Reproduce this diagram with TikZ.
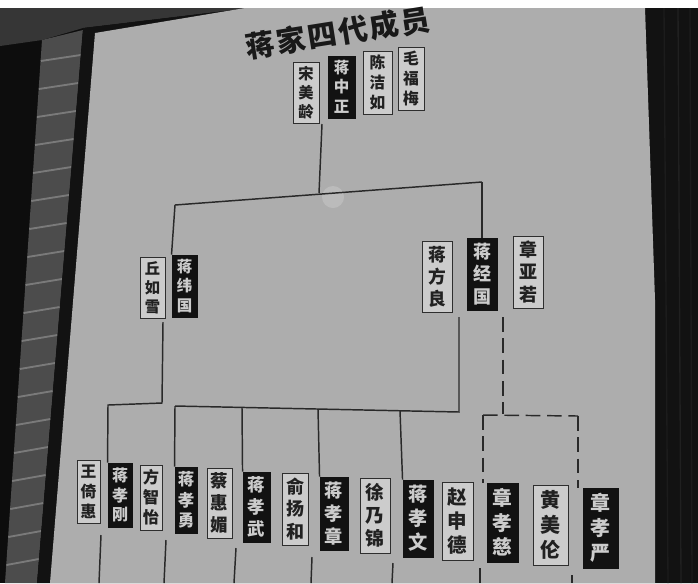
\documentclass[tikz,border=0pt]{standalone}
\usepackage{fontspec}
\newfontfamily\cjk{Noto Sans CJK SC}
\usetikzlibrary{fit,calc}
\definecolor{boardc}{gray}{0.68}
\definecolor{paper}{gray}{0.80}
\definecolor{ink}{gray}{0.07}
\definecolor{inkt}{gray}{0.13}
\definecolor{pale}{gray}{0.80}
\definecolor{linec}{gray}{0.16}
\definecolor{frameline}{gray}{0.18}
\definecolor{titlec}{gray}{0.10}
\definecolor{wall}{gray}{0.05}
\definecolor{corner}{gray}{0.21}
\definecolor{brick}{gray}{0.30}
\definecolor{mortar}{gray}{0.48}
\definecolor{framec}{gray}{0.07}
\newcommand\namebox[9]{%
  \pgfmathsetmacro\nbh{(#6-#4)*0.75}%
  \pgfmathsetmacro\nbfs{0.25*\nbh}%
  \pgfmathsetmacro\nbs{0.31*\nbh}%
  \pgfmathsetmacro\nbth{0.86*\nbfs}%
  \pgfmathsetmacro\nbtd{0.10*\nbfs}%
  \node[#1, fit={(#3,#4) (#5,#6)}] (#2) {};%
  \tikzset{nbchar/.style={#1 text, font=\cjk\bfseries\fontsize{\nbfs pt}{\nbfs pt}\selectfont, text height=\nbth pt, text depth=\nbtd pt}}%
  \node[nbchar, yshift=\nbs pt] at (#2.center) {#7};%
  \node[nbchar] at (#2.center) {#8};%
  \node[nbchar, yshift=-\nbs pt] at (#2.center) {#9};%
}
\begin{document}
\begin{tikzpicture}[x=0.75pt,y=-0.75pt,
  wbox/.style={draw=frameline, line width=0.7pt, fill=paper, inner sep=0pt},
  bbox/.style={draw=ink, line width=0.7pt, fill=ink, inner sep=0pt},
  wbox text/.style={text=inkt, inner sep=0pt},
  bbox text/.style={text=pale, inner sep=0pt},
  conn/.style={draw=linec, line width=1.1pt},
  dconn/.style={conn, dash pattern=on 11pt off 5pt},
  titlestyle/.style={font=\cjk\bfseries\fontsize{22}{24}\selectfont, text=titlec, inner sep=0pt}]
\useasboundingbox (0,0) rectangle (698,583);
% ---------- photo background ----------
\fill[white] (0,0) rectangle (698,583);
\fill[wall] (0,8) rectangle (698,583);
\fill[corner] (0,8) -- (250,8) -- (83,28) -- (42,40) -- (0,46) -- cycle;
% brick column
\fill[brick] (42,40) -- (83,30) -- (37,583) -- (5,583) -- cycle;
\foreach \yy in {58,86,114,142,170,198,226,254,282,310,338,366,394,422,450,478,506,534,562} {
  \pgfmathsetmacro\xl{42-(\yy-40)/543*37}
  \pgfmathsetmacro\xr{83-(\yy-30)/553*46}
  \draw[mortar, line width=1.4pt] (\xl,\yy+3) -- (\xr,\yy-3);
}
% frame
\fill[framec] (83,28) -- (250,8) -- (645,8) -- (698,8) -- (698,583) -- (37,583) -- cycle;
\draw[gray!22!black, line width=1pt] (664,8) -- (668,583);
\draw[gray!25!black, line width=1pt] (678,8) -- (681,583);
\draw[gray!22!black, line width=1pt] (690,8) -- (692,583);
% board
\fill[boardc] (95,33) -- (245,8) -- (645,8) -- (655,300) -- (655,583) -- (50,583) -- cycle;
\fill[white, opacity=0.18] (333,197) circle (11);
% ---------- title ----------
\node[titlestyle, rotate=9] (title) at (338,33) {蒋\kern1.5pt家\kern1.5pt四\kern1.5pt代\kern1.5pt成\kern1.5pt员};
% ---------- generation 1 ----------
\namebox{wbox}{sml}{293}{62}{319}{123}{宋}{美}{龄}
\namebox{bbox}{jzz}{328}{56}{355}{118}{蒋}{中}{正}
\namebox{wbox}{cjr}{363}{51}{392}{114}{陈}{洁}{如}
\namebox{wbox}{mfm}{398}{47}{424}{110}{毛}{福}{梅}
% ---------- generation 2 ----------
\namebox{wbox}{qrx}{140}{257}{165}{318}{丘}{如}{雪}
\namebox{bbox}{jwg}{172}{255}{197}{317}{蒋}{纬}{国}
\namebox{wbox}{jfl}{422}{241}{452}{312}{蒋}{方}{良}
\namebox{bbox}{jjg}{467}{238}{497}{310}{蒋}{经}{国}
\namebox{wbox}{zyr}{513}{236}{543}{308}{章}{亚}{若}
% ---------- generation 3 ----------
\namebox{wbox}{wyh}{77}{460}{100}{523}{王}{倚}{惠}
\namebox{bbox}{jxg}{108}{463}{132}{527}{蒋}{孝}{刚}
\namebox{wbox}{fzy}{140}{465}{162}{530}{方}{智}{怡}
\namebox{bbox}{jxy}{175}{467}{197}{533}{蒋}{孝}{勇}
\namebox{wbox}{chm}{207}{468}{232}{538}{蔡}{惠}{媚}
\namebox{bbox}{jxw}{243}{472}{270}{542}{蒋}{孝}{武}
\namebox{wbox}{yyh}{282}{473}{308}{545}{俞}{扬}{和}
\namebox{bbox}{jxz}{320}{477}{348}{550}{蒋}{孝}{章}
\namebox{wbox}{xnj}{360}{478}{390}{553}{徐}{乃}{锦}
\namebox{bbox}{jxwen}{403}{480}{433}{557}{蒋}{孝}{文}
\namebox{wbox}{zsd}{442}{482}{473}{560}{赵}{申}{德}
\namebox{bbox}{zxc}{487}{483}{518}{562}{章}{孝}{慈}
\namebox{wbox}{hml}{533}{485}{568}{565}{黄}{美}{伦}
\namebox{bbox}{zxy}{583}{488}{618}{568}{章}{孝}{严}
% ---------- connectors ----------
\coordinate (c0) at (322,124);
\coordinate (b1) at (319,193);
\coordinate (bL) at (175,205);
\coordinate (bR) at (482,182);
\draw[conn] (c0) -- (b1);
\draw[conn] (bL) -- (bR);
\draw[conn] (bL) -- (jwg.north west);
\draw[conn] (bR) -- (jjg.north);
% from Chiang Wei-kuo
\coordinate (a1) at (163,322);
\coordinate (a2) at (162,403);
\coordinate (a3) at (108,405);
\draw[conn] (a1) -- (a2) -- (a3) -- (jxg.north west);
% from Chiang Ching-kuo
\coordinate (e1) at (459,317);
\coordinate (e2) at (459,412);
\coordinate (f1) at (175,406);
\coordinate (f2) at (242,407.4);
\coordinate (f3) at (318,409);
\coordinate (f4) at (400,410.8);
\draw[conn] (e1) -- (e2) -- (f1);
\draw[conn] (f1) -- (jxy.north west);
\draw[conn] (f2) -- (jxw.north west);
\draw[conn] (f3) -- (jxz.north west);
\draw[conn] (f4) -- (jxwen.north west);
% dashed (Chang)
\coordinate (g1) at (503,317);
\coordinate (g2) at (503,414);
\coordinate (h1) at (483,415);
\coordinate (h2) at (578,416);
\draw[dconn] (g1) -- (g2);
\draw[dconn] (h1) -- (h2);
\draw[dconn] (h1) -- (h1 |- zxc.north);
\draw[dconn] (h2) -- (h2 |- zxy.north);
% lines running off the bottom
\coordinate (k1) at (101,535);  \coordinate (m1) at (99,583);
\coordinate (k2) at (166,540);  \coordinate (m2) at (164,583);
\coordinate (k3) at (236,548);  \coordinate (m3) at (234,583);
\coordinate (k4) at (312,557);  \coordinate (m4) at (311,583);
\coordinate (k5) at (393,563);  \coordinate (m5) at (392,583);
\coordinate (k6) at (480,568);  \coordinate (m6) at (480,583);
\coordinate (k7) at (572,575);  \coordinate (m7) at (572,583);
\foreach \i in {1,...,7} { \draw[conn] (k\i) -- (m\i); }
\end{tikzpicture}
\end{document}
